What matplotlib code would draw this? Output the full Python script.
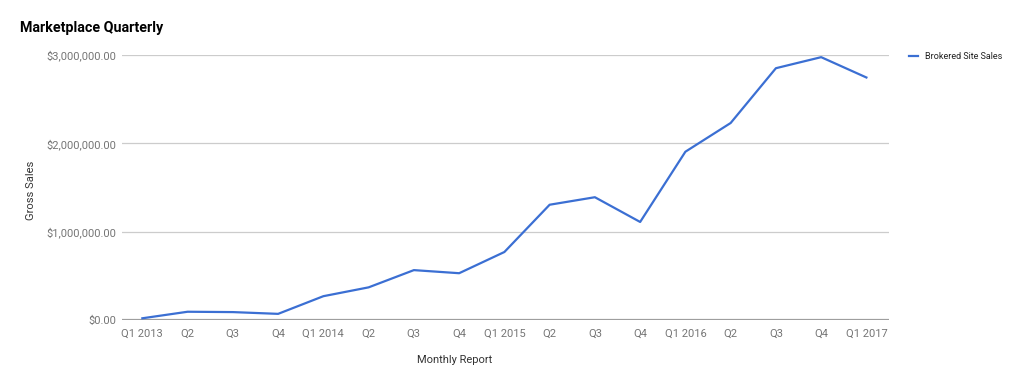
import matplotlib.pyplot as plt
from matplotlib.ticker import FuncFormatter

plt.rcParams['font.family'] = ['Roboto', 'DejaVu Sans']

# data
quarters = ['Q1 2013', 'Q2', 'Q3', 'Q4', 'Q1 2014', 'Q2', 'Q3', 'Q4',
            'Q1 2015', 'Q2', 'Q3', 'Q4', 'Q1 2016', 'Q2', 'Q3', 'Q4', 'Q1 2017']
sales = [20000, 94000, 90000, 70000, 270000, 370000, 565000, 530000,
         770000, 1305000, 1390000, 1110000, 1905000, 2230000, 2850000,
         2975000, 2745000]
y_ticks = [0, 1000000, 2000000, 3000000]

fig = plt.figure(figsize=(10.2, 3.87), dpi=100)
ax = fig.add_axes([0.1196, 0.173, 0.7520, 0.685])

x = list(range(len(quarters)))
ax.plot(x, sales, color='#3b6fd3', lw=1.6, label='Brokered Site Sales',
        solid_joinstyle='round', zorder=3)

ax.set_xlim(-0.45, len(quarters) - 0.5)
ax.set_ylim(0, 3000000)
ax.set_yticks(y_ticks)
ax.yaxis.set_major_formatter(FuncFormatter(lambda v, p: '${:,.2f}'.format(v)))
ax.set_xticks(x)
ax.set_xticklabels(quarters)

ax.grid(axis='y', color='#cccccc', lw=0.9)
ax.axhline(0, color='#9e9e9e', lw=1.6, zorder=2)
for s in ax.spines.values():
    s.set_visible(False)
ax.tick_params(length=0, labelsize=8, labelcolor='#757575')
ax.tick_params(axis='y', pad=4)
ax.tick_params(axis='x', pad=6)

ax.set_xlabel('Monthly Report', fontsize=8, color='#333333')
ax.xaxis.set_label_coords(0.434, -0.133)
ax.set_ylabel('Gross Sales', fontsize=8, color='#333333')
ax.yaxis.set_label_coords(-0.112, 0.49)

fig.text(0.0196, 0.927, 'Marketplace Quarterly', fontsize=10.3,
         fontweight='bold', color='#000000', va='center')

ax.legend(loc='upper left', bbox_to_anchor=(1.015, 1.04), frameon=False,
          fontsize=6.5, handlelength=1.0, handletextpad=0.8,
          labelcolor='#222222')

fig.savefig('out.png', dpi=100)
